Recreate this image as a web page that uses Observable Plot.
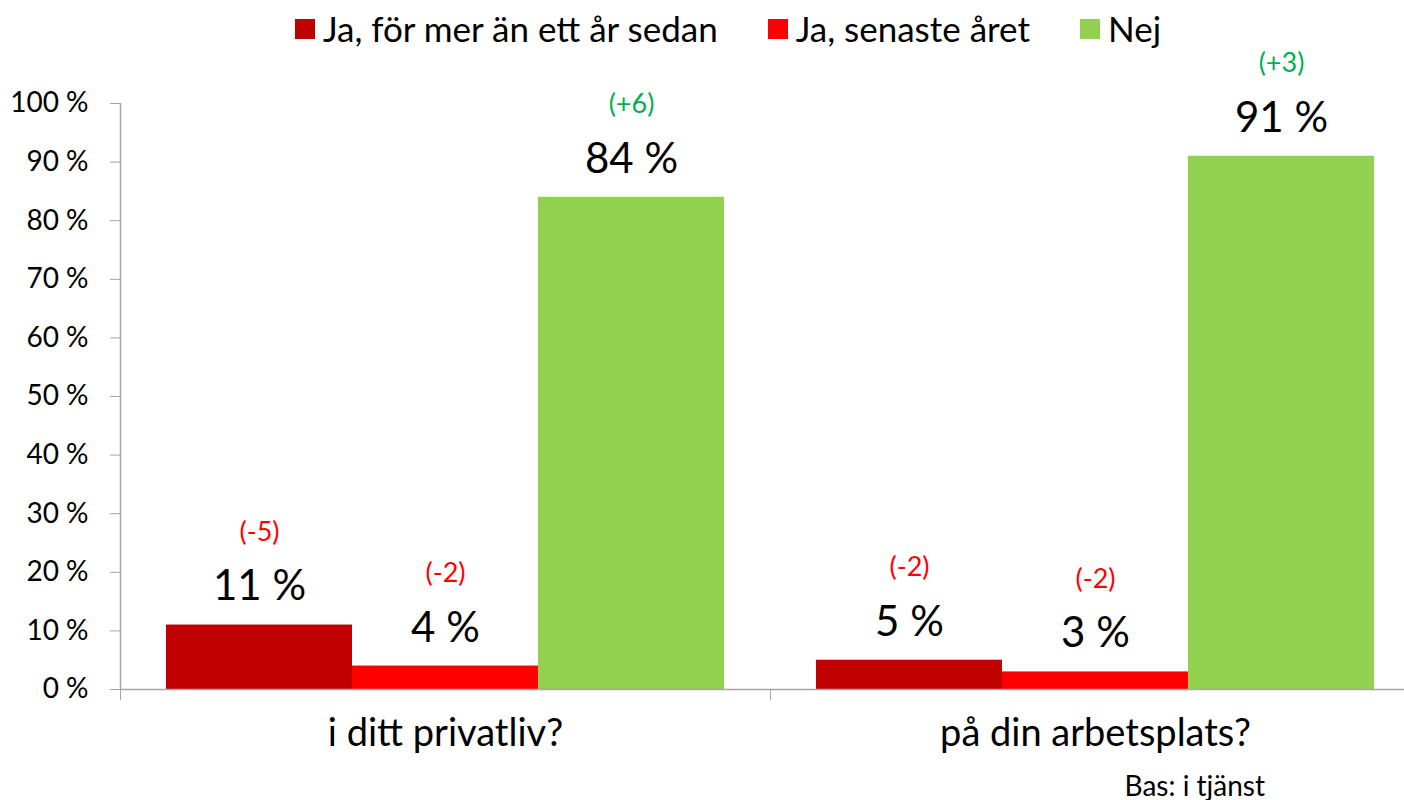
<!DOCTYPE html>
<html>
<head>
<meta charset="utf-8">
<script src="https://cdn.jsdelivr.net/npm/d3@7"></script>
<script src="https://cdn.jsdelivr.net/npm/@observablehq/plot@0.6"></script>
<style>
  html, body { margin: 0; padding: 0; background: #fff; }
  #wrap { position: relative; width: 1404px; height: 800px; font-family: Lato, "Open Sans", sans-serif; color: #000; }
  #legend { height: 55px; display: flex; justify-content: center; align-items: center; padding-left: 52px; box-sizing: border-box; font-size: 35px; }
  .item { display: flex; align-items: center; margin: 0 25px; white-space: nowrap; }
  .sw { width: 20px; height: 20px; margin-right: 8px; margin-top: 2px; }
  #caption { position: absolute; right: 139px; top: 771px; font-size: 28px; line-height: 1; }
</style>
</head>
<body>
<div id="wrap">
  <div id="legend"></div>
  <div id="chart"></div>
  <div id="caption">Bas: i tjänst</div>
</div>
<script>
// ---- data ----
const questions = ["i ditt privatliv?", "på din arbetsplats?"];
const series = ["Ja, för mer än ett år sedan", "Ja, senaste året", "Nej"];
const seriesColors = ["#c00000", "#ff0000", "#92d050"];
const valuesPrivat = [11, 4, 84];
const valuesArbete = [5, 3, 91];
const changesPrivat = [-5, -2, 6];
const changesArbete = [-2, -2, 3];
const yTicks = [0, 10, 20, 30, 40, 50, 60, 70, 80, 90, 100];

const values = [valuesPrivat, valuesArbete];
const changes = [changesPrivat, changesArbete];

// ---- legend ----
const legend = document.getElementById("legend");
series.forEach((s, i) => {
  const it = document.createElement("div");
  it.className = "item";
  const sw = document.createElement("span");
  sw.className = "sw";
  sw.style.background = seriesColors[i];
  const tx = document.createElement("span");
  tx.textContent = s;
  it.append(sw, tx);
  legend.append(it);
});

// ---- rows ----
const inner = d3.scaleBand().domain(series).range([0, 1]).paddingInner(0).paddingOuter(0.247);
const rows = [];
questions.forEach((q, qi) => series.forEach((s, si) => {
  const x1 = qi + inner(s);
  rows.push({
    q, s, qi, si,
    x1, x2: x1 + inner.bandwidth(), xc: x1 + inner.bandwidth() / 2,
    value: values[qi][si],
    change: changes[qi][si],
    color: seriesColors[si]
  });
}));

const gray = "#a6a6a6";

const chart = Plot.plot({
  width: 1404,
  height: 745,
  marginTop: 48,
  marginBottom: 111,
  marginLeft: 120,
  marginRight: 0,
  style: { fontFamily: "Lato, 'Open Sans', sans-serif", background: "#fff", color: "#000", overflow: "visible" },
  x: { type: "linear", domain: [0, questions.length], range: [120, 1420] },
  y: { domain: [0, 100] },
  color: { type: "identity" },
  marks: [
    Plot.rectY(rows, { x1: "x1", x2: "x2", y1: 0, y2: "value", fill: "color" }),
    Plot.ruleY([0], { stroke: gray, strokeWidth: 1.5 }),
    Plot.ruleX([0], { y1: 0, y2: 100, stroke: gray, strokeWidth: 1.5 }),
    Plot.axisY({ ticks: yTicks, tickSize: 10, tickPadding: 22, tickFormat: d => d + " %", fontSize: 28, stroke: gray, fill: "#000", label: null }),
    Plot.axisX({ ticks: d3.range(questions.length + 1), tickSize: 11, tickFormat: () => "", stroke: gray, label: null }),
    Plot.text(questions, { x: (d, i) => i + 0.5, frameAnchor: "bottom", dy: 56, text: d => d, fontSize: 38, fill: "#000" }),
    Plot.text(rows, { x: "xc", y: "value", text: d => d.value + " %", dy: -38, fontSize: 42, fill: "#000" }),
    Plot.text(rows, { x: "xc", y: "value", text: d => "(" + (d.change > 0 ? "+" : "") + d.change + ")", dy: -93, fontSize: 27, fill: d => d.change < 0 ? "#ff0000" : "#00b050" })
  ]
});
document.getElementById("chart").append(chart);
</script>
</body>
</html>
